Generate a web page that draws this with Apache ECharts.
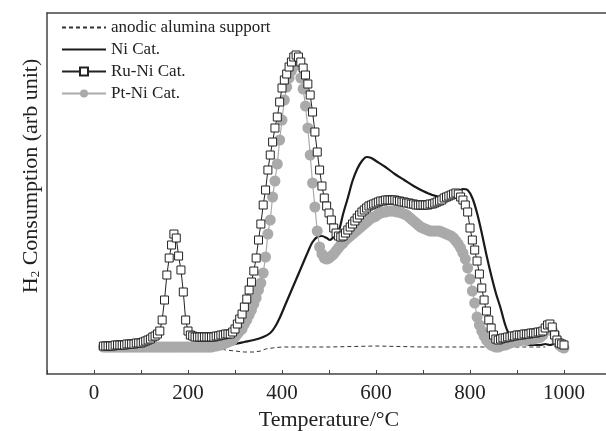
<!DOCTYPE html>
<html>
<head>
<meta charset="utf-8">
<script src="https://cdn.jsdelivr.net/npm/echarts@6/dist/echarts.min.js"></script>
<style>
  html, body { margin: 0; padding: 0; background: #fff; }
  #chart { width: 606px; height: 431px; }
</style>
</head>
<body>
<div id="chart"></div>
<script>
// temperature grid (°C) shared by the two marker series
const temps = [
  20, 25, 30, 35, 40, 45, 50, 55, 60, 65, 70, 75, 80, 85, 90, 95, 100, 105, 110, 115,
  120, 125, 130, 135, 140, 145, 150, 155, 160, 165, 170, 175, 180, 185, 190, 195, 200, 205, 210, 215,
  220, 225, 230, 235, 240, 245, 250, 255, 260, 265, 270, 275, 280, 285, 290, 295, 300, 305, 310, 315,
  320, 325, 330, 335, 340, 345, 350, 355, 360, 365, 370, 375, 380, 385, 390, 395, 400, 405, 410, 415,
  420, 425, 430, 435, 440, 445, 450, 455, 460, 465, 470, 475, 480, 485, 490, 495, 500, 505, 510, 515,
  520, 525, 530, 535, 540, 545, 550, 555, 560, 565, 570, 575, 580, 585, 590, 595, 600, 605, 610, 615,
  620, 625, 630, 635, 640, 645, 650, 655, 660, 665, 670, 675, 680, 685, 690, 695, 700, 705, 710, 715,
  720, 725, 730, 735, 740, 745, 750, 755, 760, 765, 770, 775, 780, 785, 790, 795, 800, 805, 810, 815,
  820, 825, 830, 835, 840, 845, 850, 855, 860, 865, 870, 875, 880, 885, 890, 895, 900, 905, 910, 915,
  920, 925, 930, 935, 940, 945, 950, 955, 960, 965, 970, 975, 980, 985, 990, 995, 1000
];

// Ru-Ni Cat. (arb unit), one value per entry of temps
const ruNi = [
  28, 28, 28, 28, 28, 29, 29, 29, 29, 29, 30, 30, 30, 30, 31, 31, 31, 32, 33, 34,
  35, 37, 38, 40, 43, 54, 74, 99, 116, 129, 140, 136, 118, 104, 82, 54, 43, 39, 38, 37,
  37, 37, 37, 37, 37, 37, 37, 37, 38, 38, 39, 39, 40, 40, 40, 42, 45, 50, 55, 60,
  67, 75, 84, 92, 103, 116, 134, 150, 169, 184, 204, 219, 232, 246, 257, 272, 286, 294, 300, 307,
  312, 317, 319, 317, 312, 306, 299, 290, 279, 262, 242, 222, 204, 188, 176, 168, 161, 154, 146, 141,
  138, 137, 138, 141, 144, 147, 150, 153, 156, 159, 162, 164, 166, 168, 169, 170, 171, 172, 173, 173,
  174, 174, 174, 174, 174, 173, 173, 172, 172, 171, 171, 170, 170, 169, 169, 169, 169, 169, 169, 170,
  170, 171, 172, 173, 174, 176, 177, 178, 179, 180, 181, 180, 177, 174, 169, 162, 146, 134, 124, 113,
  100, 86, 74, 63, 54, 46, 39, 35, 34, 35, 36, 36, 37, 37, 38, 38, 39, 39, 39, 40,
  40, 40, 41, 41, 41, 42, 42, 43, 46, 49, 50, 47, 39, 34, 31, 30, 29
];

// Pt-Ni Cat. (arb unit), one value per entry of temps
const ptNi = [
  27, 27, 27, 27, 27, 27, 27, 27, 27, 27, 27, 27, 27, 27, 27, 27, 27, 27, 27, 27,
  27, 27, 27, 27, 27, 27, 27, 27, 27, 27, 27, 27, 27, 27, 27, 27, 27, 27, 27, 27,
  27, 27, 27, 27, 27, 27, 27, 28, 28, 29, 29, 30, 31, 32, 33, 34, 37, 40, 43, 45,
  50, 54, 59, 64, 70, 76, 84, 91, 101, 117, 140, 154, 177, 193, 210, 234, 254, 274, 287, 296,
  303, 308, 311, 309, 296, 285, 268, 246, 219, 191, 167, 143, 127, 120, 116, 115, 116, 118, 120, 123,
  126, 129, 131, 134, 136, 138, 140, 142, 144, 146, 148, 150, 152, 154, 156, 157, 158, 160, 161, 162,
  162, 163, 163, 163, 163, 162, 162, 161, 160, 159, 157, 155, 153, 151, 149, 147, 146, 145, 144, 143,
  143, 143, 143, 143, 142, 141, 140, 139, 138, 136, 133, 130, 126, 121, 115, 106, 95, 83, 71, 57,
  49, 43, 38, 34, 31, 29, 28, 27, 27, 28, 29, 29, 30, 31, 32, 32, 33, 33, 34, 34,
  34, 35, 35, 35, 36, 36, 37, 39, 43, 45, 45, 44, 40, 34, 29, 27, 26
];

// Ni Cat. [temperature, signal]
const niCat = [
  [20, 27], [100, 27], [200, 27], [250, 28], [280, 29], [300, 30], [320, 32], [340, 34],
  [360, 37], [375, 41], [385, 47], [395, 56], [405, 67], [415, 78], [425, 89], [435, 100],
  [445, 111], [455, 122], [465, 132], [475, 137], [485, 138], [495, 136], [502, 134], [510, 137],
  [520, 142], [530, 160], [540, 176], [550, 193], [560, 205], [570, 213], [580, 217], [590, 216],
  [600, 213], [620, 207], [640, 200], [660, 194], [680, 188], [700, 183], [720, 179], [740, 177],
  [760, 179], [775, 183], [785, 185], [795, 184], [805, 176], [815, 161], [825, 141], [835, 119],
  [845, 99], [855, 81], [865, 66], [875, 49], [885, 38], [895, 34], [910, 31], [930, 29],
  [950, 29], [960, 30], [970, 29], [980, 30], [990, 29], [1000, 28]
];

// anodic alumina support [temperature, signal]
const support = [
  [20, 27], [250, 27], [265, 26], [280, 24], [300, 23], [320, 22], [340, 22], [355, 23],
  [365, 25], [380, 26], [400, 27], [500, 27], [600, 28], [700, 27], [800, 27], [900, 27], [960, 27]
];

const xTickLabels = [0, 200, 400, 600, 800, 1000];

const serif = "'Liberation Serif', 'Times New Roman', serif";
const frame = { color: '#444', width: 1.5 };
const noMarker = { color: 'rgba(0,0,0,0)', borderWidth: 0 };

const chart = echarts.init(document.getElementById('chart'));

const option = {
  animation: false,
  backgroundColor: '#fff',
  grid: { left: 47, top: 13, right: -5, bottom: 57, outerBoundsMode: 'none' },
  legend: {
    orient: 'vertical',
    left: 56, top: 14,
    itemWidth: 44, itemHeight: 10, itemGap: 5,
    data: [
      { name: 'anodic alumina support', itemStyle: noMarker },
      { name: 'Ni Cat.', itemStyle: noMarker },
      'Ru-Ni Cat.',
      'Pt-Ni Cat.'
    ],
    textStyle: { fontFamily: serif, fontSize: 17, color: '#222' }
  },
  xAxis: [
    {
      type: 'value',
      min: -100, max: 1100, interval: 100,
      axisLine: { show: true, onZero: false, lineStyle: frame },
      axisTick: { show: true, inside: true, length: 4, lineStyle: { color: '#444' } },
      splitLine: { show: false },
      axisLabel: {
        fontFamily: serif, fontSize: 21, color: '#222', margin: 9,
        formatter: v => (xTickLabels.indexOf(v) >= 0 ? String(v) : '')
      },
      name: 'Temperature/°C',
      nameLocation: 'middle',
      nameGap: 33,
      nameTextStyle: { fontFamily: serif, fontSize: 22, color: '#222' }
    },
    {
      type: 'value',
      position: 'top',
      min: -100, max: 1100,
      axisLine: { show: true, onZero: false, lineStyle: frame },
      axisTick: { show: false },
      axisLabel: { show: false },
      splitLine: { show: false }
    }
  ],
  yAxis: {
    type: 'value',
    min: 0, max: 361,
    axisLine: { show: true, onZero: false, lineStyle: frame },
    axisTick: { show: false },
    axisLabel: { show: false },
    splitLine: { show: false }
  },
  graphic: [{
    type: 'text',
    x: 31, y: 176,
    rotation: Math.PI / 2,
    style: {
      text: '{a|H}{s|2}{a| Consumption (arb unit)}',
      align: 'center', verticalAlign: 'middle',
      fill: '#222',
      rich: {
        a: { fontFamily: serif, fontSize: 22, fill: '#222' },
        s: { fontFamily: serif, fontSize: 13, fill: '#222', padding: [10, 0, 0, 0] }
      }
    }
  }],
  series: [
    {
      name: 'anodic alumina support',
      type: 'line',
      z: 2,
      data: support,
      showSymbol: false,
      symbol: 'none',
      lineStyle: { color: '#333', width: 1, type: [4, 3] },
      itemStyle: { color: '#333' }
    },
    {
      name: 'Ni Cat.',
      type: 'line',
      z: 3,
      data: niCat,
      smooth: 0.3,
      showSymbol: false,
      symbol: 'none',
      lineStyle: { color: '#1a1a1a', width: 2.2 },
      itemStyle: { color: '#1a1a1a' }
    },
    {
      name: 'Pt-Ni Cat.',
      type: 'line',
      z: 4,
      data: temps.map((t, i) => [t, ptNi[i]]),
      symbol: 'circle',
      symbolSize: 11,
      showAllSymbol: true,
      lineStyle: { color: '#aaa', width: 1.2 },
      itemStyle: { color: '#aaa', borderWidth: 0 }
    },
    {
      name: 'Ru-Ni Cat.',
      type: 'line',
      z: 5,
      data: temps.map((t, i) => [t, ruNi[i]]),
      symbol: 'rect',
      symbolSize: 8,
      showAllSymbol: true,
      lineStyle: { color: '#222', width: 1 },
      itemStyle: { color: '#fff', borderColor: '#222', borderWidth: 1 }
    }
  ]
};

chart.setOption(option);
</script>
</body>
</html>
